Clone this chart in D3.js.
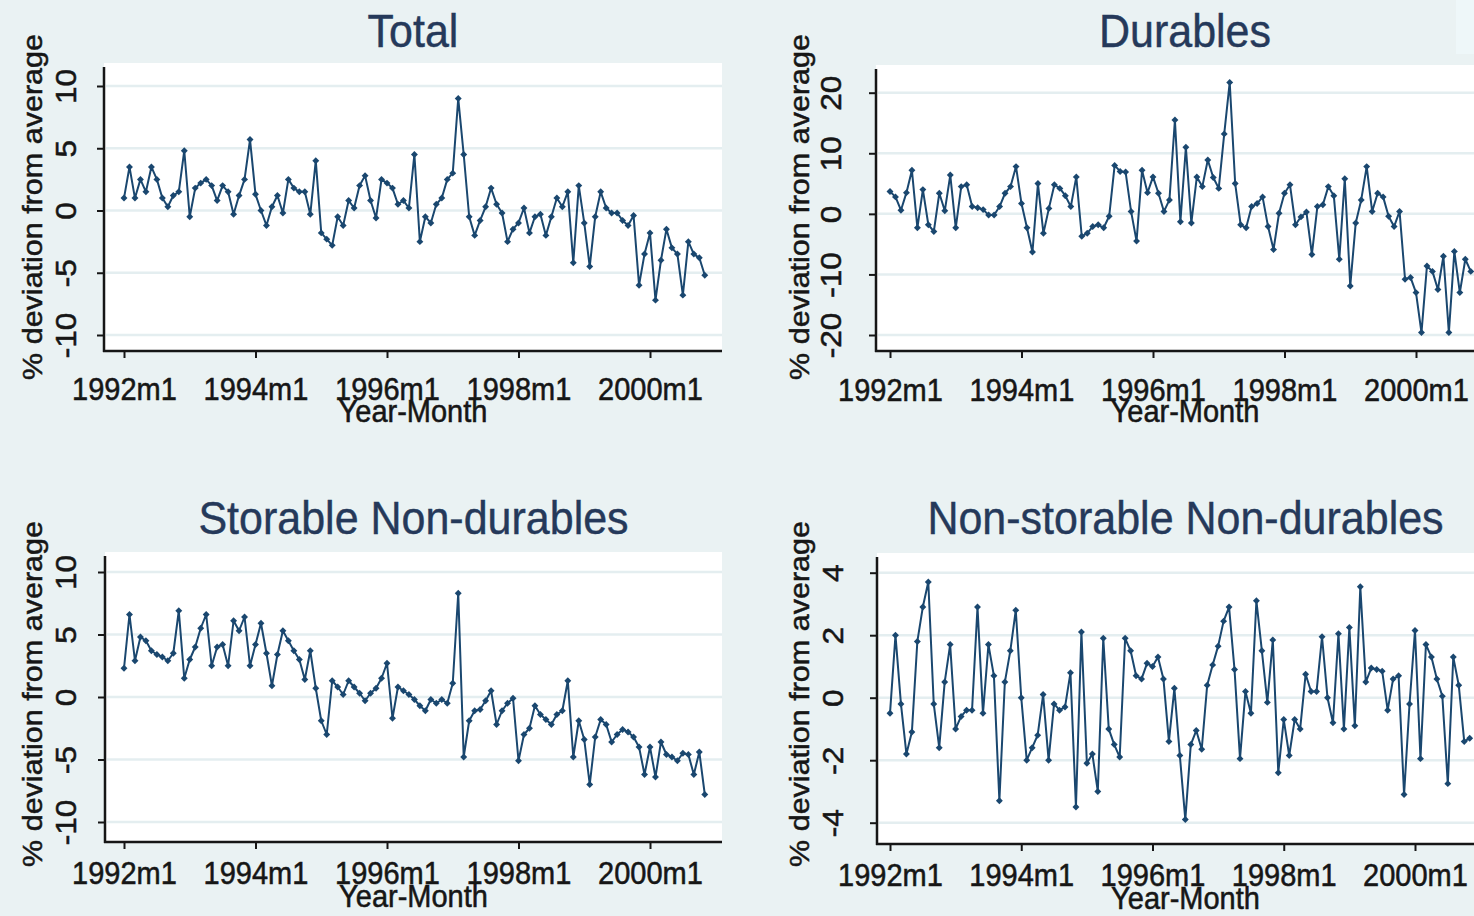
<!DOCTYPE html>
<html>
<head>
<meta charset="utf-8">
<script src="https://cdnjs.cloudflare.com/ajax/libs/d3/7.8.5/d3.min.js"></script>
<style>
  body { margin: 0; background: #eaf2f3; overflow: hidden; }
  text { font-family: "Liberation Sans", Arial, Helvetica, sans-serif; }
</style>
</head>
<body>
<svg id="chart" width="1474" height="916"></svg>
<script>
// months are indexed from 0 = 1992m1 to 106 = 2000m11
var xTickMonths = [0, 24, 48, 72, 96];
var xTickLabels = ["1992m1", "1994m1", "1996m1", "1998m1", "2000m1"];

var yTicksTotal = [-10, -5, 0, 5, 10];
var yTicksDurables = [-20, -10, 0, 10, 20];
var yTicksStorable = [-10, -5, 0, 5, 10];
var yTicksNonStorable = [-4, -2, 0, 2, 4];

var total = [
  1.0, 3.5, 1.0, 2.5, 1.5, 3.5, 2.5, 1.0, 0.3, 1.2, 1.5, 4.8,
  -0.5, 1.8, 2.2, 2.5, 2.0, 0.8, 2.0, 1.5, -0.3, 1.2, 2.5, 5.7,
  1.3, 0.0, -1.2, 0.3, 1.2, -0.2, 2.5, 1.8, 1.5, 1.5, -0.3, 4.0,
  -1.8, -2.3, -2.8, -0.5, -1.2, 0.8, 0.2, 2.0, 2.8, 0.8, -0.6, 2.5,
  2.2, 1.8, 0.5, 0.8, 0.2, 4.5, -2.5, -0.5, -1.0, 0.5, 1.0, 2.5,
  3.0, 9.0, 4.5, -0.5, -2.0, -0.8, 0.3, 1.8, 0.5, -0.2, -2.5, -1.5,
  -1.0, 0.2, -1.8, -0.5, -0.3, -2.0, -0.5, 1.0, 0.3, 1.5, -4.2, 2.0,
  -1.0, -4.5, -0.5, 1.5, 0.2, -0.2, -0.2, -0.8, -1.2, -0.4, -6.0, -3.5,
  -1.8, -7.2, -4.0, -1.5, -3.0, -3.5, -6.8, -2.5, -3.5, -3.8, -5.2
];

var durables = [
  3.7, 2.8, 0.6, 3.5, 7.2, -2.3, 4.0, -1.8, -2.9, 3.4, 0.5, 6.4,
  -2.3, 4.5, 4.8, 1.2, 1.0, 0.7, -0.2, -0.2, 1.2, 3.4, 4.5, 7.8,
  1.7, -2.3, -6.3, 5.0, -3.2, 0.9, 4.8, 4.2, 3.0, 1.2, 6.1, -3.7,
  -3.2, -2.1, -1.8, -2.3, -0.4, 8.0, 7.0, 6.9, 0.4, -4.5, 7.2, 3.5,
  6.1, 3.4, 0.4, 2.3, 15.5, -1.3, 11.0, -1.5, 6.1, 4.5, 8.9, 6.0,
  4.2, 13.2, 21.7, 5.0, -1.8, -2.3, 1.2, 1.7, 2.8, -2.1, -5.9, 0.1,
  3.4, 4.8, -1.8, -0.5, 0.3, -6.7, 1.2, 1.5, 4.5, 3.0, -7.5, 5.8,
  -11.9, -1.5, 2.3, 7.8, 0.4, 3.4, 2.8, -0.4, -2.1, 0.4, -10.8, -10.5,
  -13.0, -19.6, -8.6, -9.5, -12.5, -7.0, -19.6, -6.2, -13.0, -7.5, -9.5
];

var storable = [
  2.3, 6.6, 2.9, 4.8, 4.5, 3.7, 3.4, 3.2, 2.9, 3.5, 6.9, 1.5,
  3.0, 4.0, 5.5, 6.6, 2.5, 4.0, 4.2, 2.5, 6.1, 5.3, 6.4, 2.5,
  4.2, 5.9, 3.5, 0.9, 3.4, 5.3, 4.5, 3.7, 3.0, 1.4, 3.7, 0.7,
  -1.9, -3.0, 1.3, 0.8, 0.2, 1.3, 0.8, 0.3, -0.3, 0.3, 0.7, 1.5,
  2.7, -1.7, 0.8, 0.5, 0.2, -0.2, -0.7, -1.1, -0.2, -0.5, -0.2, -0.5,
  1.1, 8.3, -4.8, -1.9, -1.1, -1.0, -0.3, 0.5, -2.2, -1.1, -0.5, -0.1,
  -5.1, -3.0, -2.5, -0.7, -1.4, -1.8, -2.2, -1.4, -1.1, 1.3, -4.8, -1.9,
  -3.4, -7.0, -3.2, -1.8, -2.2, -3.6, -3.0, -2.6, -2.8, -3.2, -4.0, -6.2,
  -4.0, -6.4, -3.6, -4.6, -4.8, -5.1, -4.5, -4.6, -6.2, -4.4, -7.8
];

var nonStorable = [
  -0.5, 2.0, -0.2, -1.8, -1.1, 1.8, 2.9, 3.7, -0.2, -1.6, 0.5, 1.7,
  -1.0, -0.6, -0.4, -0.4, 2.9, -0.5, 1.7, 0.7, -3.3, 0.5, 1.5, 2.8,
  0.0, -2.0, -1.6, -1.2, 0.1, -2.0, -0.2, -0.4, -0.3, 0.8, -3.5, 2.1,
  -2.1, -1.8, -3.0, 1.9, -1.0, -1.5, -1.9, 1.9, 1.5, 0.7, 0.6, 1.1,
  1.0, 1.3, 0.6, -1.4, 0.3, -1.85, -3.9, -1.5, -1.05, -1.65, 0.4, 1.05,
  1.65, 2.45, 2.9, 0.9, -1.95, 0.2, -0.5, 3.1, 1.5, -0.15, 1.85, -2.4,
  -0.7, -1.85, -0.7, -1.0, 0.75, 0.2, 0.2, 1.95, 0.0, -0.8, 2.05, -1.0,
  2.25, -0.9, 3.55, 0.5, 0.95, 0.9, 0.85, -0.4, 0.6, 0.7, -3.1, -0.2,
  2.15, -1.95, 1.7, 1.3, 0.6, 0.05, -2.75, 1.3, 0.4, -1.4, -1.3
];

var navy = "#1a476f";
var ink = "#161616";
var titleInk = "#25395a";
var stretch = 1.09; // the picture's text is a bit taller than wide

// box = [left, top, right, bottom] of the white plot region
var panels = [
  { title: "Total", values: total, yTicks: yTicksTotal,
    box: [104, 63, 722, 351], yr: [335, 86], xr: [124, 650],
    titleY: 47, xlabY: 400, xtitY: 422, ylabX: -28, ytitX: 42, ytitY: 207 },
  { title: "Durables", values: durables, yTicks: yTicksDurables,
    box: [876, 65, 1494, 351], yr: [335, 92.7], xr: [890, 1416],
    titleY: 47, xlabY: 401, xtitY: 422, ylabX: -35, ytitX: 809, ytitY: 207 },
  { title: "Storable Non-durables", values: storable, yTicks: yTicksStorable,
    box: [105, 552, 722, 842], yr: [822, 572], xr: [124, 650],
    titleY: 534, xlabY: 884, xtitY: 907, ylabX: -29, ytitX: 42, ytitY: 694 },
  { title: "Non-storable Non-durables", values: nonStorable, yTicks: yTicksNonStorable,
    box: [877, 553, 1494, 844], yr: [822.7, 572.7], xr: [890, 1415],
    titleY: 534, xlabY: 886, xtitY: 909, ylabX: -34, ytitX: 809, ytitY: 694 }
];

var svg = d3.select("#chart");

// odd lighter patch in the top right corner of the picture
svg.append("rect").attr("x", 1456).attr("y", 0).attr("width", 18).attr("height", 54)
  .attr("fill", "#eef7f9");

panels.forEach(function(p) {
  var L = p.box[0], T = p.box[1], R = p.box[2], B = p.box[3];
  var x = d3.scaleLinear().domain([0, 96]).range(p.xr);
  var y = d3.scaleLinear()
    .domain([p.yTicks[0], p.yTicks[p.yTicks.length - 1]])
    .range(p.yr);

  var g = svg.append("g");

  g.append("rect")
    .attr("x", L).attr("y", T)
    .attr("width", R - L).attr("height", B - T)
    .attr("fill", "#ffffff");

  g.selectAll("line.grid")
    .data(p.yTicks)
    .join("line")
    .attr("class", "grid")
    .attr("x1", L + 2).attr("x2", R)
    .attr("y1", function(d) { return y(d); })
    .attr("y2", function(d) { return y(d); })
    .attr("stroke", "#e4eef0")
    .attr("stroke-width", 2.5);

  // series
  var line = d3.line()
    .x(function(d, i) { return x(i); })
    .y(function(d) { return y(d); });

  g.append("path")
    .datum(p.values)
    .attr("d", line)
    .attr("fill", "none")
    .attr("stroke", navy)
    .attr("stroke-width", 2)
    .attr("stroke-linejoin", "round");

  g.selectAll("path.mk")
    .data(p.values)
    .join("path")
    .attr("class", "mk")
    .attr("d", d3.symbol(d3.symbolSquare, 24))
    .attr("transform", function(d, i) {
      return "translate(" + x(i) + "," + y(d) + ") rotate(45)";
    })
    .attr("fill", navy);

  // x axis
  var gx = g.append("g")
    .attr("transform", "translate(0," + B + ")")
    .call(d3.axisBottom(x)
      .tickValues(xTickMonths)
      .tickFormat(function(d, i) { return xTickLabels[i]; })
      .tickSize(7)
      .tickSizeOuter(0));
  gx.select(".domain").remove();
  gx.selectAll(".tick line").attr("stroke", ink).attr("stroke-width", 2);
  gx.selectAll(".tick text")
    .attr("y", null).attr("dy", null)
    .attr("transform", "translate(0," + (p.xlabY - B) + ") scale(1," + stretch + ")")
    .attr("font-size", 29)
    .attr("font-family", '"Liberation Sans", Arial, sans-serif')
    .attr("fill", ink)
    .attr("stroke", ink).attr("stroke-width", 0.5);

  // y axis
  var gy = g.append("g")
    .attr("transform", "translate(" + L + ",0)")
    .call(d3.axisLeft(y)
      .tickValues(p.yTicks)
      .tickFormat(function(d) { return String(d); })
      .tickSize(7)
      .tickSizeOuter(0));
  gy.select(".domain").remove();
  gy.selectAll(".tick line").attr("stroke", ink).attr("stroke-width", 2);
  gy.selectAll(".tick text")
    .attr("x", null).attr("dy", null)
    .attr("text-anchor", "middle")
    .attr("transform", "translate(" + p.ylabX + ",0) rotate(-90) scale(" + stretch + ",1)")
    .attr("font-size", 29)
    .attr("font-family", '"Liberation Sans", Arial, sans-serif')
    .attr("fill", ink)
    .attr("stroke", ink).attr("stroke-width", 0.5);

  // axis lines
  g.append("line")
    .attr("x1", L).attr("x2", L).attr("y1", T + 4).attr("y2", B + 1)
    .attr("stroke", ink).attr("stroke-width", 2.5);
  g.append("line")
    .attr("x1", L - 1).attr("x2", R).attr("y1", B).attr("y2", B)
    .attr("stroke", ink).attr("stroke-width", 2.5);

  // titles
  var cx = (L + R) / 2;
  g.append("text")
    .attr("text-anchor", "middle")
    .attr("transform", "translate(" + cx + "," + p.titleY + ") scale(1," + stretch + ")")
    .attr("font-size", 43)
    .attr("fill", titleInk)
    .attr("stroke", titleInk).attr("stroke-width", 0.4)
    .text(p.title);

  g.append("text")
    .attr("text-anchor", "middle")
    .attr("transform", "translate(" + cx + "," + p.xtitY + ") scale(1," + stretch + ")")
    .attr("font-size", 29)
    .attr("fill", ink)
    .attr("stroke", ink).attr("stroke-width", 0.5)
    .text("Year-Month");

  g.append("text")
    .attr("text-anchor", "middle")
    .attr("transform", "translate(" + p.ytitX + "," + p.ytitY + ") rotate(-90) scale(" + stretch + ",1)")
    .attr("font-size", 28)
    .attr("fill", ink)
    .attr("stroke", ink).attr("stroke-width", 0.5)
    .text("% deviation from average");
});
</script>
</body>
</html>
